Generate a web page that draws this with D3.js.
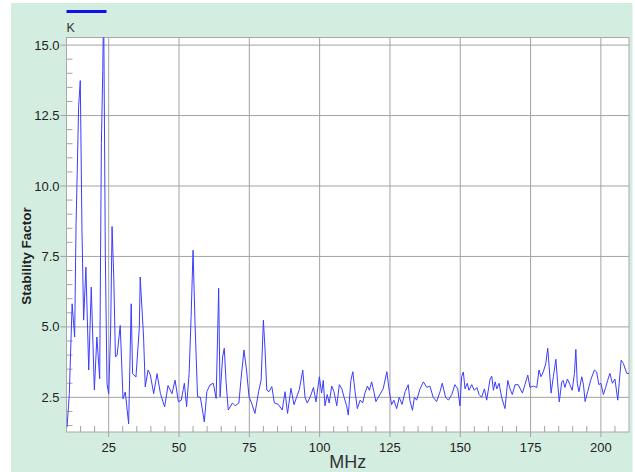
<!DOCTYPE html>
<html><head><meta charset="utf-8">
<script src="https://cdn.jsdelivr.net/npm/d3@7/dist/d3.min.js"></script>
<style>html,body{margin:0;padding:0;background:#fff;}svg{display:block;}</style>
</head><body>
<svg id="chart" width="635" height="472"></svg>
<script>
const freqs = [10.2,11.0,12.0,12.9,13.4,13.8,14.3,14.9,15.5,16.1,16.9,17.9,18.8,19.9,20.8,21.8,22.4,22.9,23.2,23.8,24.4,25.0,25.7,26.2,26.8,27.4,28.0,29.1,30.1,30.9,32.1,33.0,33.5,34.7,35.9,36.2,37.4,38.0,39.0,39.8,41.0,42.2,43.4,44.9,46.1,47.5,48.6,49.8,50.8,51.9,52.7,53.6,54.3,55.0,55.7,56.6,57.6,59.0,59.9,61.0,62.2,63.2,63.8,64.1,64.6,65.5,66.1,66.7,67.5,69.0,70.0,71.3,72.0,73.1,74.0,74.9,75.8,77.0,78.3,79.2,80.0,80.6,81.2,82.0,83.0,83.9,85.3,86.7,87.7,88.6,89.8,90.9,91.8,92.8,94.0,94.8,95.6,96.6,97.8,98.7,99.9,100.7,101.3,101.9,102.7,103.4,104.3,105.1,106.1,107.0,107.9,108.7,109.6,110.2,111.1,111.8,112.6,113.4,114.4,115.3,116.1,117.0,117.7,118.5,119.3,120.0,120.9,121.7,122.6,123.9,124.8,125.6,126.4,127.4,128.3,129.3,130.4,131.5,132.1,133.0,133.7,134.5,135.7,136.9,138.1,139.2,140.4,141.6,142.8,143.6,144.8,145.8,147.0,148.1,149.1,149.9,150.5,151.1,151.7,152.5,153.1,154.1,155.0,155.9,156.7,157.6,158.6,159.4,160.6,161.2,161.8,162.4,163.0,163.8,164.7,165.9,166.9,167.7,168.5,169.5,170.6,172.1,173.0,174.0,174.8,176.0,177.2,178.0,178.7,179.5,180.4,181.1,181.6,182.3,183.1,184.0,184.6,185.2,186.1,186.6,187.2,188.1,189.0,189.8,190.6,191.1,191.6,192.2,193.2,193.8,194.4,195.3,196.5,197.7,198.5,199.3,200.0,200.9,201.7,202.4,203.2,204.1,205.0,206.0,207.2,208.0,209.2,210.0];
const kValues = [1.45,2.63,5.82,4.64,8.66,10.43,12.8,13.74,8.43,5.24,7.12,3.47,6.41,2.76,4.64,3.16,11.5,14.1,16.5,7.59,2.98,2.63,4.89,8.56,6.77,3.93,4.0,5.05,2.45,2.69,1.56,5.82,3.34,3.22,4.99,6.77,4.64,2.87,3.47,3.3,2.63,3.34,2.63,2.16,2.92,2.63,3.11,2.34,2.4,3.0,2.17,3.35,5.36,7.72,5.13,2.52,2.5,1.63,2.7,2.94,3.0,2.46,5.0,6.37,2.52,3.94,4.24,3.1,2.05,2.3,2.2,2.3,3.1,4.18,3.47,2.52,2.3,1.93,2.7,3.11,5.24,4.18,2.76,2.7,2.88,2.3,2.25,2.05,2.7,1.93,2.82,2.24,2.5,2.78,3.47,2.5,2.3,2.5,2.85,2.34,3.23,2.65,3.1,2.2,2.6,2.3,2.9,2.7,2.2,2.95,2.8,2.5,2.2,1.87,3.1,3.41,2.7,2.1,2.4,2.3,2.65,2.9,2.75,3.05,2.7,2.35,2.5,2.65,2.8,3.41,2.7,2.24,2.4,2.1,2.5,2.25,2.7,2.95,2.4,2.04,2.5,2.4,2.8,3.05,2.85,2.9,2.5,2.35,2.7,3.0,2.5,2.4,2.6,2.95,2.8,2.2,3.23,3.4,2.8,3.0,2.75,2.95,2.75,2.85,2.6,2.5,2.8,2.4,3.15,3.25,2.75,3.05,2.8,3.0,2.5,2.1,3.1,2.8,2.6,2.95,2.95,2.65,2.95,3.29,2.85,2.9,2.85,3.47,3.23,3.4,3.7,4.24,3.6,2.65,3.23,3.85,3.05,2.34,3.05,3.1,2.85,3.15,2.95,2.75,3.35,4.2,3.0,2.7,3.23,2.95,2.35,2.7,3.15,3.47,3.4,2.95,3.0,2.6,2.85,3.1,3.35,3.0,3.15,2.4,3.82,3.7,3.35,3.35];
const xTicks = [25,50,75,100,125,150,175,200];
const yTicks = [2.5,5.0,7.5,10.0,12.5,15.0];
const seriesName = "K";
const xTitle = "MHz";
const yTitle = "Stability Factor";

const svg = d3.select("#chart");
const L = 66.5, R = 629, T = 37.5, B = 432;
const x = d3.scaleLinear().domain([10, 210]).range([L, R]);
const y = d3.scaleLinear().domain([1.27, 15.27]).range([B, T]);

svg.append("rect").attr("x", 11).attr("y", 3).attr("width", 621.5).attr("height", 469).attr("fill", "#d4ede1");
svg.append("rect").attr("x", L).attr("y", T).attr("width", R - L).attr("height", B - T).attr("fill", "#fff");

const gridColor = "#a2a2a2";
// horizontal grid + outward ticks
yTicks.forEach(v => {
  svg.append("line").attr("x1", L - 6).attr("x2", R).attr("y1", y(v)).attr("y2", y(v)).attr("stroke", gridColor).attr("stroke-width", 1);
});
xTicks.forEach(v => {
  svg.append("line").attr("x1", x(v)).attr("x2", x(v)).attr("y1", T).attr("y2", B + 5).attr("stroke", gridColor).attr("stroke-width", 1);
});
// minor ticks
d3.range(1.5, 15.01, 0.5).filter(v => Math.abs(v / 2.5 - Math.round(v / 2.5)) > 1e-6).forEach(v => {
  svg.append("line").attr("x1", L).attr("x2", L + 6).attr("y1", y(v)).attr("y2", y(v)).attr("stroke", gridColor);
});
d3.range(15, 210, 5).filter(v => v % 25 !== 0).forEach(v => {
  svg.append("line").attr("x1", x(v)).attr("x2", x(v)).attr("y1", B).attr("y2", B - 6).attr("stroke", gridColor);
});
svg.append("rect").attr("x", L).attr("y", T).attr("width", R - L).attr("height", B - T).attr("fill", "none").attr("stroke", "#a8a8a8");

// tick labels
const font = "Liberation Sans, Arial, sans-serif";
yTicks.forEach(v => {
  svg.append("text").attr("x", 59.5).attr("y", y(v)).attr("dy", "0.35em").attr("text-anchor", "end")
    .attr("font-family", font).attr("font-size", 13).attr("fill", "#222").text(v.toFixed(1));
});
xTicks.forEach(v => {
  svg.append("text").attr("x", x(v)).attr("y", 451.7).attr("text-anchor", "middle")
    .attr("font-family", font).attr("font-size", 13).attr("fill", "#222").text(v);
});

// clip + line
svg.append("clipPath").attr("id", "clip").append("rect").attr("x", L).attr("y", T).attr("width", R - L).attr("height", B - T);
const data = freqs.map((f, i) => [f, kValues[i]]);
svg.append("path").datum(data).attr("clip-path", "url(#clip)")
  .attr("d", d3.line().x(d => x(d[0])).y(d => y(d[1])))
  .attr("fill", "none").attr("stroke", "#3c3cff").attr("stroke-width", 1);

// legend
svg.append("line").attr("x1", 66.5).attr("x2", 106.5).attr("y1", 11.5).attr("y2", 11.5).attr("stroke", "#1010ee").attr("stroke-width", 3);
svg.append("text").attr("x", 66.5).attr("y", 31.5).attr("font-family", font).attr("font-size", 12.5).attr("fill", "#333").text(seriesName);

// axis titles
svg.append("text").attr("x", 347.75).attr("y", 468.3).attr("text-anchor", "middle").attr("font-family", font).attr("font-size", 18).attr("fill", "#333").text(xTitle);
svg.append("text").attr("transform", "translate(30.5,256) rotate(-90)").attr("text-anchor", "middle").attr("font-family", font).attr("font-weight", "bold").attr("font-size", 13.5).attr("fill", "#222").text(yTitle);
</script>
</body></html>
